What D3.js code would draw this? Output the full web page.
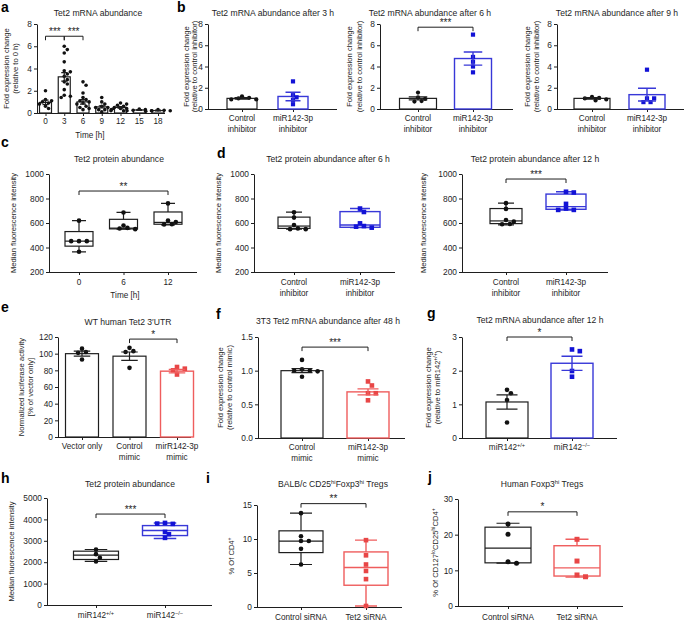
<!DOCTYPE html>
<html><head><meta charset="utf-8">
<script src="https://cdn.jsdelivr.net/npm/d3@7"></script>
<style>body{margin:0;background:#fff}svg{display:block}</style>
</head><body><svg id="chart" width="684" height="621"></svg>
<script>
// ================= DATA =================
// a: Tet2 mRNA abundance over time
const aCats = ["0","3","6","9","12","15","18"];
const aMean = [0.95, 3.25, 1.0, 0.55, 0.5, 0.27, 0.22];
const aSem  = [0.2, 0.38, 0.2, 0.1, 0.07, 0.03, 0.03];
const aPts = [
  [2.0, 1.2, 1.1, 1.0, 0.9, 0.8, 0.6, 0.4],
  [6.0, 5.7, 5.4, 4.6, 3.8, 3.7, 3.5, 3.3, 3.0, 2.8, 2.6, 2.1, 1.6, 1.5, 1.4],
  [2.8, 2.5, 1.8, 1.4, 1.2, 1.1, 1.0, 0.9, 0.8, 0.6, 0.5, 0.4, 0.3],
  [1.4, 1.0, 0.8, 0.6, 0.5, 0.5, 0.4, 0.3, 0.3, 0.2, 0.1],
  [0.9, 0.8, 0.7, 0.6, 0.5, 0.4, 0.4, 0.3, 0.2],
  [0.35, 0.3, 0.25, 0.2, 0.2],
  [0.3, 0.25, 0.2, 0.2, 0.15]
];
const aTicks = [0, 2, 4, 6, 8];
const aSig = [["0","3",6.9,"***"],["3","6",6.9,"***"]];

// b: Tet2 mRNA after 3 / 6 / 9 h
const bCats = ["Control\ninhibitor", "miR142-3p\ninhibitor"];
const bTicks = [0, 2, 4, 6, 8];
const b3Mean = [1.0, 1.18], b3Sem = [0.07, 0.4];
const b3Pts = [[1.2, 1.05, 1.0, 0.9, 0.9], [2.6, 1.3, 1.1, 0.85, 0.45]];
const b6Mean = [1.0, 4.75], b6Sem = [0.15, 0.62];
const b6Pts = [[1.55, 1.1, 0.95, 0.75, 0.7], [7.0, 4.9, 4.45, 4.0, 3.45]];
const b6Sig = [["Control\ninhibitor","miR142-3p\ninhibitor",7.7,"***"]];
const b9Mean = [1.0, 1.35], b9Sem = [0.07, 0.6];
const b9Pts = [[1.15, 1.05, 1.0, 0.9, 0.8], [3.7, 1.0, 1.0, 0.65, 0.65]];

// c: Tet2 protein abundance (box: min, q1, median, q3, max)
const cCats = ["0", "6", "12"];
const cTicks = [200, 400, 600, 800, 1000];
const cBox = [[365, 411, 452, 530, 619], [550, 552, 558, 630, 686], [585, 590, 605, 690, 760]];
const cPts = [[619, 452, 452, 452, 365], [686, 580, 560, 555, 550], [760, 620, 608, 590, 588]];
const cSig = [["0","12",861,"**"]];

// d: Tet2 protein after 6 / 12 h
const dCats = ["Control\ninhibitor", "miR142-3p\ninhibitor"];
const d6Box = [[550, 556, 575, 648, 688], [562, 565, 584, 693, 718]];
const d6Pts = [[688, 644, 584, 556, 550, 550], [718, 690, 597, 575, 570, 562]];
const d12Box = [[585, 595, 617, 718, 762], [705, 712, 734, 836, 855]];
const d12Pts = [[762, 715, 625, 611, 592, 590], [855, 849, 756, 718, 707, 707]];
const d12Sig = [["Control\ninhibitor","miR142-3p\ninhibitor",959,"***"]];

// e: WT human Tet2 3'UTR luciferase
const eCats = ["Vector only", "Control\nmimic", "mirR142-3p\nmimic"];
const eTicks = [0, 20, 40, 60, 80, 100, 120];
const eMean = [100, 97, 79], eSem = [3, 5, 2];
const ePts = [[106, 102, 101, 93], [107, 103, 102, 83], [84, 82, 80, 75]];
const eSig = [["Control\nmimic","mirR142-3p\nmimic",117.5,"*"]];

// f: 3T3 Tet2 mRNA after 48 h
const fCats = ["Control\nmimic", "miR142-3p\nmimic"];
const fTicks = [0, 0.5, 1.0, 1.5];
const fMean = [1.0, 0.685], fSem = [0.03, 0.045];
const fPts = [[1.16, 1.02, 1.0, 1.0, 0.99, 0.91], [0.84, 0.78, 0.665, 0.665, 0.56]];
const fSig = [["Control\nmimic","miR142-3p\nmimic",1.35,"***"]];

// g: Tet2 mRNA after 12 h
const gCats = ["miR142^+/+", "miR142^\u2212/\u2212"];
const gTicks = [0, 1, 2, 3];
const gMean = [1.07, 2.22], gSem = [0.21, 0.21];
const gPts = [[1.43, 1.33, 1.13, 0.46], [2.63, 2.58, 1.99, 1.82]];
const gSig = [["miR142^+/+","miR142^\u2212/\u2212",3.0,"*"]];

// h: Tet2 protein abundance
const hCats = ["miR142^+/+", "miR142^\u2212/\u2212"];
const hTicks = [0, 1000, 2000, 3000, 4000, 5000];
const hBox = [[2034, 2127, 2329, 2515, 2593], [3106, 3245, 3478, 3711, 3835]];
const hPts = [[2593, 2376, 2205, 2034], [3835, 3790, 3804, 3416, 3307, 3137]];
const hSig = [["miR142^+/+","miR142^\u2212/\u2212",4250,"***"]];

// i: BALB/c Tregs
const iCats = ["Control siRNA", "Tet2 siRNA"];
const iTicks = [0, 5, 10, 15];
const iBox = [[6.25, 8.0, 9.7, 11.2, 13.8], [0.15, 3.2, 5.8, 8.1, 9.83]];
const iPts = [[13.8, 10.4, 9.7, 9.7, 8.55, 6.25], [9.83, 7.6, 6.25, 5.3, 4.1, 0.15]];
const iSig = [["Control siRNA","Tet2 siRNA",15.2,"**"]];

// j: Human Tregs
const jCats = ["Control siRNA", "Tet2 siRNA"];
const jTicks = [0, 10, 20, 30];
const jBox = [[12.0, 12.1, 16.2, 22.1, 23.2], [8.1, 8.4, 10.7, 16.9, 18.7]];
const jPts = [[23.0, 20.1, 12.4, 12.0], [18.7, 12.6, 8.7, 8.2]];
const jSig = [["Control siRNA","Tet2 siRNA",26.4,"*"]];

// ================= STYLE / HELPERS =================
const FONT = '"Liberation Sans", Arial, Helvetica, sans-serif';
const INK = "#1e1e1e";
const COL = {
  k: {line: "#1e1e1e", dot: "#111", shape: "circle"},
  b: {line: "#3838d8", dot: "#1212d6", shape: "square"},
  r: {line: "#ef5d5d", dot: "#e84646", shape: "square"}
};
const TICK_FS = 8.4, CAT_FS = 8.2, TITLE_FS = 8.6, YLAB_FS = 7.6, LETTER_FS = 14;
const svg = d3.select("#chart").attr("font-family", FONT);

function rich(textSel, str, fs) {
  const parts = str.split("^");
  let raised = false;
  parts.forEach((p, i) => {
    if (p === "") return;
    const t = textSel.append("tspan").text(p);
    if (i % 2 === 1) {
      t.attr("font-size", fs * 0.68).attr("dy", -fs * 0.38);
      raised = true;
    } else if (raised) {
      t.attr("dy", fs * 0.38);
      raised = false;
    }
  });
}

function swarm(vals, y, diam) {
  const placed = [];
  return vals.map(v => {
    const py = y(v);
    let off = 0;
    for (let k = 0; k < 60; k++) {
      const cand = k === 0 ? 0 : (k % 2 ? 1 : -1) * Math.ceil(k / 2) * diam * 0.85;
      if (placed.every(p => Math.hypot(p.x - cand, p.y - py) >= diam * 0.95)) { off = cand; break; }
    }
    placed.push({x: off, y: py});
    return {v, dx: off, y: py};
  });
}

function drawDots(g, cx, vals, y, c, r) {
  const d = swarm(vals, y, r * 2);
  if (c.shape === "circle") {
    g.selectAll(null).data(d).enter().append("circle")
      .attr("cx", p => cx + p.dx).attr("cy", p => p.y).attr("r", r).attr("fill", c.dot);
  } else {
    g.selectAll(null).data(d).enter().append("rect")
      .attr("x", p => cx + p.dx - r).attr("y", p => p.y - r)
      .attr("width", r * 2).attr("height", r * 2).attr("fill", c.dot);
  }
}

function drawPanel(o) {
  const g = svg.append("g");
  const y = d3.scaleLinear().domain(o.yDomain).range([o.yBottom, o.yTop]);
  const x = d3.scalePoint().domain(o.cats).range(o.centers);

  // y axis
  const ya = g.append("g").attr("transform", `translate(${o.x0},0)`)
    .call(d3.axisLeft(y).tickValues(o.yTicks).tickFormat(o.fmt || (d => d))
      .tickSize(3).tickSizeOuter(0).tickPadding(2));
  ya.attr("font-family", FONT).attr("font-size", TICK_FS);
  ya.selectAll("text").attr("fill", INK);
  ya.selectAll("line,path").attr("stroke", INK);
  // x axis
  const xa = g.append("g").attr("transform", `translate(0,${o.yBottom})`)
    .call(d3.axisBottom(x).tickSize(3).tickFormat(() => "").tickSizeOuter(0));
  xa.select(".domain").remove();
  xa.selectAll("line").attr("stroke", INK);
  g.append("line").attr("x1", o.x0).attr("x2", o.x1)
    .attr("y1", o.yBottom + 0.5).attr("y2", o.yBottom + 0.5).attr("stroke", INK);

  // category labels
  o.cats.forEach(c => {
    c.split("\n").forEach((ln, i) => {
      const t = g.append("text").attr("x", x(c)).attr("y", o.yBottom + o.catDy + i * 11)
        .attr("text-anchor", "middle").attr("font-size", CAT_FS).attr("fill", INK);
      rich(t, ln, CAT_FS);
    });
  });
  if (o.xTitle) {
    g.append("text").attr("x", o.xTitleX).attr("y", o.xTitleY).attr("text-anchor", "middle")
      .attr("font-size", CAT_FS).attr("fill", INK).text(o.xTitle);
  }
  // title
  const tt = g.append("text").attr("x", o.titleX).attr("y", o.titleY).attr("text-anchor", "middle")
    .attr("font-size", TITLE_FS).attr("fill", INK);
  rich(tt, o.title, TITLE_FS);
  // y label
  const ym = (o.yTop + o.yBottom) / 2;
  o.ylab.forEach((ln, i) => {
    const t = g.append("text").attr("transform", `translate(${o.ylabX[i]},${ym}) rotate(-90)`)
      .attr("text-anchor", "middle").attr("font-size", YLAB_FS).attr("fill", INK);
    rich(t, ln, YLAB_FS);
  });
  // letter
  if (o.letter) {
    g.append("text").attr("x", o.letterX).attr("y", o.letterY).attr("font-size", LETTER_FS)
      .attr("font-weight", "bold").attr("fill", "#000").text(o.letter);
  }

  // marks
  o.cats.forEach((c, i) => {
    const col = COL[o.colors[i]];
    const cx = x(c);
    const sw = o.colors[i] === "k" ? 1.2 : 1.4;
    if (o.kind === "bar") {
      const w = o.barW;
      g.append("rect").attr("x", cx - w / 2).attr("y", y(o.means[i]))
        .attr("width", w).attr("height", y(o.yDomain[0]) - y(o.means[i]))
        .attr("fill", "#fff").attr("stroke", col.line).attr("stroke-width", sw);
      drawDots(g, cx, o.pts[i], y, col, o.dotR);
      const hi = y(o.means[i] + o.sems[i]), lo = y(o.means[i] - o.sems[i]);
      const cw = w * 0.25;
      g.append("path").attr("d", `M${cx},${lo}V${hi}M${cx - cw},${hi}H${cx + cw}M${cx - cw},${lo}H${cx + cw}`)
        .attr("stroke", col.line).attr("stroke-width", sw).attr("fill", "none");
    } else {
      const w = o.boxW[i];
      const [mn, q1, md, q3, mx] = o.boxes[i];
      const cw = w * 0.25;
      g.append("path").attr("d",
        `M${cx},${y(q3)}V${y(mx)}M${cx - cw},${y(mx)}H${cx + cw}M${cx},${y(q1)}V${y(mn)}M${cx - cw},${y(mn)}H${cx + cw}`)
        .attr("stroke", col.line).attr("stroke-width", sw).attr("fill", "none");
      g.append("rect").attr("x", cx - w / 2).attr("y", y(q3)).attr("width", w).attr("height", y(q1) - y(q3))
        .attr("fill", "none").attr("stroke", col.line).attr("stroke-width", sw);
      g.append("line").attr("x1", cx - w / 2).attr("x2", cx + w / 2).attr("y1", y(md)).attr("y2", y(md))
        .attr("stroke", col.line).attr("stroke-width", sw);
      drawDots(g, cx, o.pts[i], y, col, o.dotR);
    }
  });

  // significance
  (o.sig || []).forEach(([a, b, lev, lab]) => {
    const yy = y(lev);
    g.append("path").attr("d", `M${x(a)},${yy + 4}V${yy}H${x(b)}V${yy + 4}`)
      .attr("stroke", INK).attr("stroke-width", 1).attr("fill", "none");
    g.append("text").attr("x", (x(a) + x(b)) / 2).attr("y", yy - 1.5).attr("text-anchor", "middle")
      .attr("font-size", 10).attr("fill", INK).text(lab);
  });
}

// ================= PANELS =================
const f1 = d3.format(".1f");
drawPanel({letter: "a", letterX: 1, letterY: 12, title: "Tet2 mRNA abundance", titleX: 98, titleY: 16,
  x0: 37, x1: 165, yTop: 24, yBottom: 113, yDomain: [0, 8], yTicks: aTicks, cats: aCats, centers: [45.5, 158],
  ylab: ["Fold expression change", "(relative to 0 h)"], ylabX: [9, 18], catDy: 11,
  xTitle: "Time [h]", xTitleX: 90, xTitleY: 138,
  kind: "bar", barW: 12, means: aMean, sems: aSem, pts: aPts, colors: ["k","k","k","k","k","k","k"], dotR: 1.8, sig: aSig});

drawPanel({letter: "b", letterX: 177, letterY: 12, title: "Tet2 mRNA abundance after 3 h", titleX: 273, titleY: 16,
  x0: 208, x1: 337, yTop: 24, yBottom: 109, yDomain: [0, 8], yTicks: bTicks, cats: bCats, centers: [242, 293],
  ylab: ["Fold expression change", "(relative to control inhibitor)"], ylabX: [189, 197], catDy: 12,
  kind: "bar", barW: 30, means: b3Mean, sems: b3Sem, pts: b3Pts, colors: ["k","b"], dotR: 2.1});

drawPanel({title: "Tet2 mRNA abundance after 6 h", titleX: 430, titleY: 16,
  x0: 380, x1: 513, yTop: 24, yBottom: 109, yDomain: [0, 8], yTicks: bTicks, cats: bCats, centers: [418, 473],
  ylab: ["Fold expression change", "(relative to control inhibitor)"], ylabX: [352, 362], catDy: 12,
  kind: "bar", barW: 37, means: b6Mean, sems: b6Sem, pts: b6Pts, colors: ["k","b"], dotR: 2.1, sig: b6Sig});

drawPanel({title: "Tet2 mRNA abundance after 9 h", titleX: 617, titleY: 16,
  x0: 557, x1: 684, yTop: 24, yBottom: 109, yDomain: [0, 8], yTicks: bTicks, cats: bCats, centers: [592, 647],
  ylab: ["Fold expression change", "(relative to control inhibitor)"], ylabX: [530, 539], catDy: 12,
  kind: "bar", barW: 36, means: b9Mean, sems: b9Sem, pts: b9Pts, colors: ["k","b"], dotR: 2.1});

drawPanel({letter: "c", letterX: 1, letterY: 147, title: "Tet2 protein abundance", titleX: 119, titleY: 162,
  x0: 49, x1: 197, yTop: 174, yBottom: 272, yDomain: [200, 1000], yTicks: cTicks, cats: cCats, centers: [79, 168],
  ylab: ["Median fluorescence intensity"], ylabX: [16], catDy: 13,
  xTitle: "Time [h]", xTitleX: 125, xTitleY: 298,
  kind: "box", boxW: [28, 28, 28], boxes: cBox, pts: cPts, colors: ["k","k","k"], dotR: 2.3, sig: cSig});

drawPanel({letter: "d", letterX: 217, letterY: 158, title: "Tet2 protein abundance after 6 h", titleX: 328, titleY: 162,
  x0: 254, x1: 395, yTop: 174, yBottom: 272, yDomain: [200, 1000], yTicks: cTicks, cats: dCats, centers: [294, 360],
  ylab: ["Median fluorescence intensity"], ylabX: [221], catDy: 13,
  kind: "box", boxW: [32, 40], boxes: d6Box, pts: d6Pts, colors: ["k","b"], dotR: 2.3});

drawPanel({title: "Tet2 protein abundance after 12 h", titleX: 535, titleY: 162,
  x0: 462, x1: 608, yTop: 174, yBottom: 272, yDomain: [200, 1000], yTicks: cTicks, cats: dCats, centers: [506, 566],
  ylab: ["Median fluorescence intensity"], ylabX: [426], catDy: 13,
  kind: "box", boxW: [32, 40], boxes: d12Box, pts: d12Pts, colors: ["k","b"], dotR: 2.3, sig: d12Sig});

drawPanel({letter: "e", letterX: 1, letterY: 312, title: "WT human Tet2 3\u2032UTR", titleX: 128, titleY: 325,
  x0: 58, x1: 191, yTop: 337, yBottom: 437, yDomain: [0, 120], yTicks: eTicks, cats: eCats, centers: [82, 177],
  ylab: ["Normalized luciferase activity", "[% of vector only]"], ylabX: [24, 33], catDy: 12,
  kind: "bar", barW: 33, means: eMean, sems: eSem, pts: ePts, colors: ["k","k","r"], dotR: 2.3, sig: eSig});

drawPanel({letter: "f", letterX: 216, letterY: 319, title: "3T3 Tet2 mRNA abundance after 48 h", titleX: 328, titleY: 324,
  x0: 258, x1: 405, yTop: 337, yBottom: 438, yDomain: [0, 1.5], yTicks: fTicks, fmt: f1, cats: fCats, centers: [302, 368],
  ylab: ["Fold expression change", "(relative to control mimic)"], ylabX: [223, 232], catDy: 12,
  kind: "bar", barW: 42, means: fMean, sems: fSem, pts: fPts, colors: ["k","r"], dotR: 2.3, sig: fSig});

drawPanel({letter: "g", letterX: 427, letterY: 318, title: "Tet2 mRNA abundance after 12 h", titleX: 540, titleY: 323,
  x0: 462, x1: 617, yTop: 337, yBottom: 438, yDomain: [0, 3], yTicks: gTicks, cats: gCats, centers: [507, 572],
  ylab: ["Fold expression change", "(relative to miR142^+/+^)"], ylabX: [431, 440], catDy: 12,
  kind: "bar", barW: 42, means: gMean, sems: gSem, pts: gPts, colors: ["k","b"], dotR: 2.3, sig: gSig});

drawPanel({letter: "h", letterX: 1, letterY: 483, title: "Tet2 protein abundance", titleX: 130, titleY: 487,
  x0: 47, x1: 212, yTop: 498, yBottom: 605, yDomain: [0, 5000], yTicks: hTicks, cats: hCats, centers: [96, 165],
  ylab: ["Median fluorescence intensity"], ylabX: [14], catDy: 13,
  kind: "box", boxW: [45, 45], boxes: hBox, pts: hPts, colors: ["k","b"], dotR: 2.3, sig: hSig});

drawPanel({letter: "i", letterX: 206, letterY: 483, title: "BALB/c CD25^hi^Foxp3^hi^ Tregs", titleX: 333, titleY: 487,
  x0: 257, x1: 402, yTop: 505, yBottom: 607, yDomain: [0, 15], yTicks: iTicks, cats: iCats, centers: [301, 366],
  ylab: ["% Of CD4^+"], ylabX: [234], catDy: 13,
  kind: "box", boxW: [44, 44], boxes: iBox, pts: iPts, colors: ["k","r"], dotR: 2.3, sig: iSig});

drawPanel({letter: "j", letterX: 428, letterY: 482, title: "Human Foxp3^hi^ Tregs", titleX: 542, titleY: 487,
  x0: 458, x1: 623, yTop: 499, yBottom: 606, yDomain: [0, 30], yTicks: jTicks, cats: jCats, centers: [508, 577],
  ylab: ["% Of CD127^lo^CD25^hi^CD4^+"], ylabX: [438], catDy: 14,
  kind: "box", boxW: [46, 46], boxes: jBox, pts: jPts, colors: ["k","r"], dotR: 2.5, sig: jSig});
</script>
</body></html>
